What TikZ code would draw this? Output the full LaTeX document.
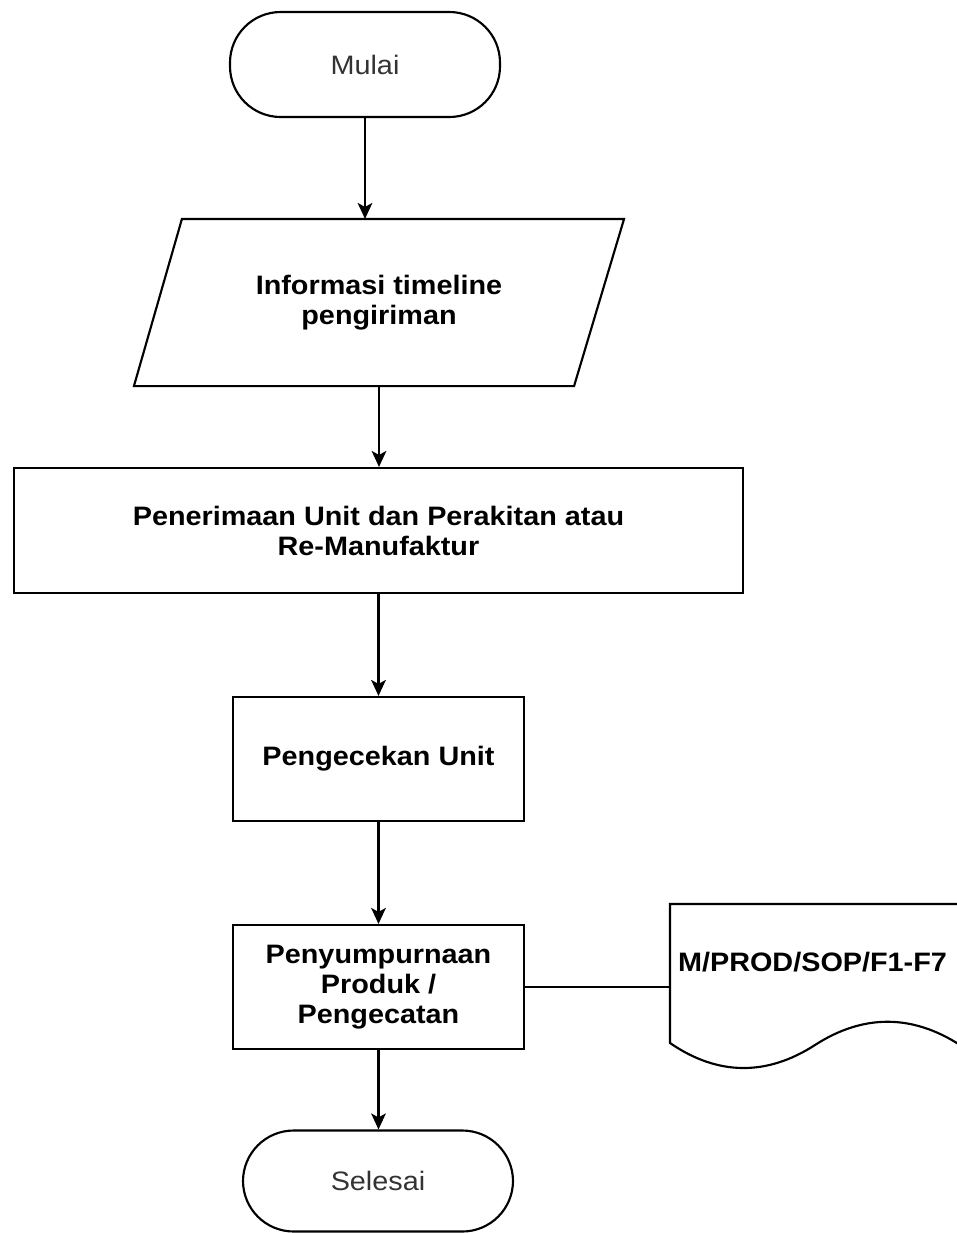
\documentclass[tikz,border=0pt]{standalone}
\usepackage{fontspec}
\setmainfont{Liberation Sans}[FakeStretch=1.08]
\usetikzlibrary{arrows.meta}

\begin{document}
\begin{tikzpicture}[x=0.75pt,y=-0.75pt,
  line width=1.6pt,
  txt/.style={font=\fontsize{20}{22.5}\selectfont},
  boldtxt/.style={font=\fontsize{20}{22.5}\selectfont\bfseries, align=center},
  procbox/.style={draw, rectangle, boldtxt, inner sep=0pt},
  term/.style={draw, rectangle, rounded corners=38pt, minimum width=202.5pt,
    inner sep=0pt, txt, text=black!80},
  flow/.style={-{Stealth[length=12pt,width=11pt,inset=3pt]}}
]
\useasboundingbox (0,0) rectangle (957,1233);
\clip (0,0) rectangle (957,1233);

% terminators
\node[term, minimum height=78.75pt] (start) at (365,64.5) {Mulai};
\node[term, minimum height=75.75pt] (stop) at (378,1181) {Selesai};

% input / output (parallelogram drawn around the text node)
\node[boldtxt, inner sep=0pt, minimum width=366pt, minimum height=123.75pt]
  (info) at (379,302.5) {Informasi timeline\\pengiriman};
\draw (info.south west) -- ([xshift=36pt]info.north west) -- (info.north east)
  -- ([xshift=-37.5pt]info.south east) -- cycle;

% process steps
\node[procbox, minimum width=546.75pt, minimum height=93.75pt] (terima) at (378.5,530.5)
  {Penerimaan Unit dan Perakitan atau\\Re-Manufaktur};
\node[procbox, minimum width=218.25pt, minimum height=93pt] (cek) at (378.5,759)
  {Pengecekan Unit};
\node[procbox, minimum width=218.25pt, minimum height=93pt] (sempurna) at (378.5,987)
  {Penyumpurnaan\\Produk /\\Pengecatan};

% document symbol with wavy bottom
\draw (670,904) -- (985,904) -- (985,1045) -- (960,1045)
  .. controls (912,1014) and (863,1014) .. (815,1045)
  .. controls (767,1076) and (718,1076) .. (670,1043) -- cycle;
\coordinate (docL) at (670,987);
\node[boldtxt, inner sep=0pt] (doc) at (812.5,962) {M/PROD/SOP/F1-F7};

% connectors
\draw[flow] (start.south) -- (start.south |- info.north);
\draw[flow] (info.south) -- (info.south |- terima.north);
\draw[flow] (terima.south) -- (cek.north);
\draw[flow] (cek.south) -- (sempurna.north);
\draw[flow] (sempurna.south) -- (sempurna.south |- stop.north);
\draw (sempurna.east) -- (docL);
\end{tikzpicture}
\end{document}
